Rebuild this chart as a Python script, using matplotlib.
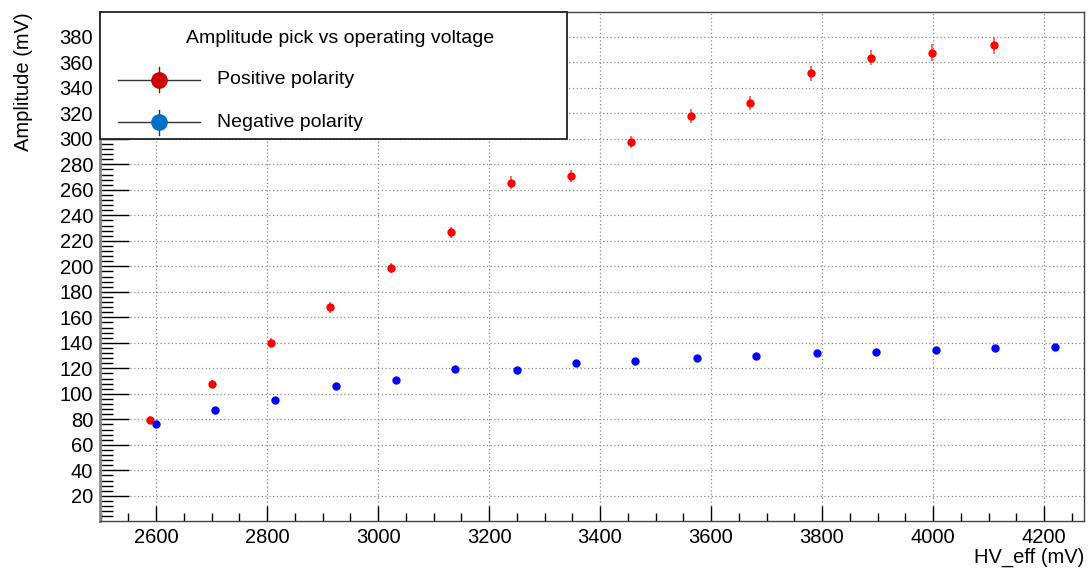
import matplotlib
matplotlib.use("Agg")
import matplotlib.pyplot as plt
from matplotlib.ticker import MultipleLocator, FixedLocator
from matplotlib.patches import Rectangle

plt.rcParams['font.family'] = ['Liberation Sans', 'DejaVu Sans']

# positive polarity
hv_pos = [2589, 2701, 2807, 2913, 3023, 3132, 3239, 3348, 3456, 3563,
          3670, 3780, 3888, 3999, 4109]
amp_pos = [79.8, 107.6, 140.0, 167.8, 199.0, 226.7, 265.7, 270.9, 297.6, 317.8,
           328.3, 351.5, 363.8, 367.6, 373.4]
err_pos = [2.5, 3.0, 3.5, 4.0, 4.0, 4.5, 5.0, 5.0, 5.0, 5.5,
           5.5, 6.0, 6.0, 6.5, 6.5]

# negative polarity
hv_neg = [2600, 2707, 2814, 2925, 3032, 3139, 3250, 3357, 3463, 3575,
          3681, 3791, 3898, 4005, 4112, 4219]
amp_neg = [76.6, 87.5, 95.1, 106.5, 111.0, 119.6, 118.4, 124.1, 125.7, 128.0,
           129.9, 132.2, 133.2, 134.2, 136.1, 136.9]
err_neg = [1.0, 1.0, 1.0, 1.2, 1.2, 1.2, 1.3, 1.3, 1.3, 1.4,
           1.4, 1.4, 1.5, 1.5, 1.5, 1.5]

y_ticks = list(range(20, 400, 20))

fig = plt.figure(figsize=(10.89, 5.69), dpi=100)
ax = fig.add_axes([100 / 1089, 48 / 569, 984 / 1089, 509 / 569])

ax.errorbar(hv_pos, amp_pos, yerr=err_pos, fmt='o', ms=5, color='#ff0000',
            ecolor='#ff5050', elinewidth=1.2, capsize=0, zorder=3)
ax.errorbar(hv_neg, amp_neg, yerr=err_neg, fmt='o', ms=5, color='#0000ff',
            ecolor='#5050ff', elinewidth=1.0, capsize=0, zorder=3)

ax.set_xlim(2499, 4272)
ax.set_ylim(0.3, 399.5)
ax.xaxis.set_major_locator(MultipleLocator(200))
ax.xaxis.set_minor_locator(MultipleLocator(50))
ax.yaxis.set_major_locator(FixedLocator(y_ticks))
ax.yaxis.set_minor_locator(MultipleLocator(4))

ax.tick_params(axis='both', which='both', direction='in', labelsize=14.5)
ax.tick_params(axis='y', which='major', length=21, width=1, pad=5)
ax.tick_params(axis='y', which='minor', length=9.5, width=1)
ax.tick_params(axis='x', which='major', length=11, width=1, pad=5)
ax.tick_params(axis='x', which='minor', length=6, width=1)

ax.grid(True, which='major', color='#888888', linestyle=(0, (1, 2)), linewidth=0.9)
ax.set_axisbelow(True)

for s in ax.spines.values():
    s.set_color('#444444')
    s.set_linewidth(1.0)
ax.spines['left'].set_color('#888888')
ax.spines['left'].set_linewidth(2)

ax.set_xlabel('HV_eff (mV)', fontsize=14.5, loc='right')
ax.xaxis.set_label_coords(1.0, -0.053)
ax.set_ylabel('Amplitude (mV)', fontsize=14.5, loc='top')
ax.yaxis.set_label_coords(-0.068, 1.0)

# legend box (ROOT style)
ax.add_patch(Rectangle((0, 0.7505), 0.4746, 0.2495, transform=ax.transAxes,
                       facecolor='white', edgecolor='#222222', linewidth=1.3,
                       zorder=6, clip_on=False))
ax.text(0.244, 0.947, 'Amplitude pick vs operating voltage', transform=ax.transAxes,
        ha='center', va='center', fontsize=14, zorder=7)
entries = [('Positive polarity', '#cc0000', 0.867),
           ('Negative polarity', '#0070c8', 0.783)]
for label, col, yy in entries:
    ax.plot([0.0183, 0.1016], [yy, yy], transform=ax.transAxes, color='#333333',
            lw=1, zorder=7, clip_on=False)
    ax.plot([0.06, 0.06], [yy - 0.024, yy + 0.024], transform=ax.transAxes,
            color='#333333', lw=1, zorder=7, clip_on=False)
    ax.plot([0.06], [yy], 'o', ms=11, color=col, transform=ax.transAxes,
            zorder=8, clip_on=False)
    ax.text(0.119, yy, label, transform=ax.transAxes, ha='left', va='center',
            fontsize=14, zorder=7)

fig.savefig('out.png', dpi=100)
